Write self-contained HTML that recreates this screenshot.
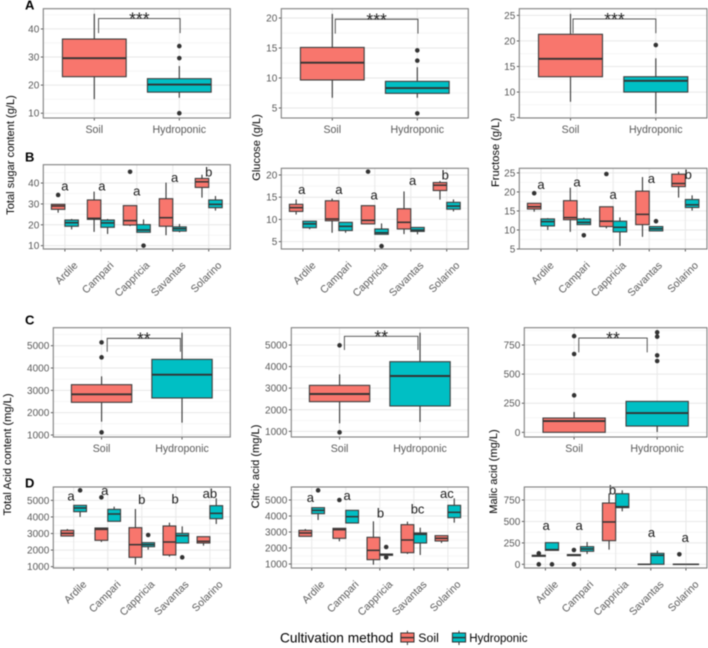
<!DOCTYPE html>
<html lang="en">
<head>
<meta charset="utf-8">
<title>Sugar and acid content by cultivation method</title>
<style>
html,body{margin:0;padding:0;background:#fff;width:708px;height:648px;overflow:hidden}
svg{display:block;filter:blur(0.45px)}
text{font-family:"Liberation Sans",Arial,sans-serif}
</style>
</head>
<body>
<svg id="chart" xmlns="http://www.w3.org/2000/svg" width="708" height="648" viewBox="0 0 708 648">
  <rect x="0" y="0" width="708" height="648" fill="#fff"/>
  <g id="panels"></g>
  <text x="25" y="9.5" font-size="13" font-weight="bold" fill="#000">A</text>
  <text x="25" y="161.5" font-size="13" font-weight="bold" fill="#000">B</text>
  <text x="25" y="324.5" font-size="13" font-weight="bold" fill="#000">C</text>
  <text x="25" y="487.5" font-size="13" font-weight="bold" fill="#000">D</text>
  <g>
    <text x="280" y="642.5" font-size="13.7" fill="#000">Cultivation method</text>
    <g>
      <line x1="407.4" x2="407.4" y1="630.7" y2="645" stroke="#333" stroke-width="1"/>
      <rect x="400.8" y="633" width="13.2" height="9" fill="#F8766D" stroke="#333" stroke-width="1"/>
      <line x1="400.8" x2="414" y1="637.6" y2="637.6" stroke="#333" stroke-width="1.4"/>
      <text x="418.3" y="642" font-size="12.3" fill="#000">Soil</text>
    </g>
    <g>
      <line x1="459" x2="459" y1="630.7" y2="645" stroke="#333" stroke-width="1"/>
      <rect x="452.4" y="633" width="13.2" height="9" fill="#00BFC4" stroke="#333" stroke-width="1"/>
      <line x1="452.4" x2="465.6" y1="637.6" y2="637.6" stroke="#333" stroke-width="1.4"/>
      <text x="469.3" y="642" font-size="11.5" fill="#000">Hydroponic</text>
    </g>
  </g>
</svg>
<script>
// Categories
const methodCategories = ['Soil', 'Hydroponic'];
const cultivarCategories = ['Ardile', 'Campari', 'Cappricia', 'Savantas', 'Solarino'];

// Each box row: [whisker low, Q1, median, Q3, whisker high]
// ---- Total sugar ----
const sugarTicks = [10, 20, 30, 40];
const sugarMethodBoxes = [[15, 23, 29.6, 36.4, 45.4], [15.5, 17.5, 20.2, 22.3, 26.8]];
const sugarMethodOutliers = [[], [33.9, 29.6, 10]];
const sugarCultivarSoilBoxes = [[25.8, 27.4, 29, 29.8, 29.8], [16.6, 22.6, 23.1, 31.9, 35.9], [19.4, 19.9, 22, 29.2, 29.2], [15, 19.3, 23.4, 32.5, 40.2], [33, 37.9, 40.6, 42.2, 44]];
const sugarCultivarHydroBoxes = [[17.8, 19.3, 21, 22.3, 22.8], [15.6, 18.8, 20.9, 22.3, 22.8], [16.4, 16.4, 17.5, 20.1, 22.6], [16.4, 17, 18.1, 19, 20.4], [26.8, 28.2, 29.8, 31.9, 33.8]];
const sugarCultivarSoilOutliers = [[34.3], [], [45.4], [], []];
const sugarCultivarHydroOutliers = [[], [], [10], [], []];
const sugarLetters = ['a', 'a', 'a', 'a', 'b'];
const sugarLetterValues = [38.2, 38.2, 35.9, 42.4, 45.1];
const sugarLetterNudges = [0, 0.03, 0, 0.05, 0];

// ---- Glucose ----
const glucoseTicks = [5, 10, 15, 20];
const glucoseMethodBoxes = [[6.7, 9.67, 12.56, 15.1, 20.7], [6.7, 7.44, 8.33, 9.44, 11.8]];
const glucoseMethodOutliers = [[], [14.6, 12.9, 4.1]];
const glucoseCultivarSoilBoxes = [[11.1, 11.8, 12.65, 13.4, 14.5], [7, 9.7, 10.1, 14.2, 14.7], [9, 9, 9.8, 13.1, 13.1], [6.7, 7.85, 9.35, 12.4, 16.3], [14.45, 16.5, 17.7, 18.3, 18.65]];
const glucoseCultivarHydroBoxes = [[7.8, 8.15, 9, 9.6, 9.6], [7, 7.5, 8.45, 9.35, 9.35], [6.65, 6.65, 7, 7.85, 9.1], [6.65, 7.3, 7.6, 8.2, 8.2], [11.8, 12.3, 13, 13.85, 14.5]];
const glucoseCultivarSoilOutliers = [[], [], [20.75], [], []];
const glucoseCultivarHydroOutliers = [[], [], [4], [], []];
const glucoseLetters = ['a', 'a', 'a', 'a', 'b'];
const glucoseLetterValues = [16.6, 16.6, 15.4, 18.6, 19.85];
const glucoseLetterNudges = [-0.03, 0, -0.02, 0.05, -0.04];

// ---- Fructose ----
const fructoseTicks = [5, 10, 15, 20, 25];
const fructoseMethodBoxes = [[8.1, 13, 16.5, 21.3, 25.3], [5.8, 10, 12.2, 13, 16.6]];
const fructoseMethodOutliers = [[], [19.2]];
const fructoseCultivarSoilBoxes = [[14.8, 15.5, 16.1, 17, 17], [9.5, 12.7, 13.25, 17.7, 21.1], [10.4, 10.9, 12.3, 16.1, 16.1], [8.2, 11.4, 14.1, 20.2, 23.9], [18.5, 21.4, 22.2, 24.65, 25.3]];
const fructoseCultivarHydroBoxes = [[10, 11.05, 12.2, 12.9, 13.1], [11.4, 11.4, 12, 12.9, 13.25], [5.8, 9.5, 10.7, 12.3, 13.3], [9.75, 9.75, 10.3, 10.9, 10.9], [15.1, 15.9, 16.6, 18, 19.1]];
const fructoseCultivarSoilOutliers = [[19.65], [], [24.7], [], []];
const fructoseCultivarHydroOutliers = [[], [8.6], [], [12.3], []];
const fructoseLetters = ['a', 'a', 'a', 'a', 'b'];
const fructoseLetterValues = [21.85, 22.4, 19.2, 23.3, 24.4];
const fructoseLetterNudges = [0, 0, 0, 0.06, 0.08];

// ---- Total acid ----
const acidTicks = [1000, 2000, 3000, 4000, 5000];
const acidMethodBoxes = [[1597, 2463, 2821, 3254, 3627], [1552, 2657, 3701, 4388, 5582]];
const acidMethodOutliers = [[5149, 4478, 1119], []];
const acidCultivarSoilBoxes = [[2829, 2849, 3010, 3191, 3271], [2487, 2588, 3251, 3332, 3332], [1121, 1563, 2327, 3352, 4477], [1603, 1704, 2487, 3452, 3653], [2266, 2427, 2528, 2809, 2809]];
const acidCultivarHydroBoxes = [[3995, 4317, 4538, 4698, 4698], [3734, 3734, 4176, 4457, 4618], [2025, 2206, 2327, 2447, 2447], [2427, 2427, 2869, 3010, 3432], [3573, 3894, 4216, 4678, 5121]];
const acidCultivarSoilOutliers = [[], [5181], [], [], []];
const acidCultivarHydroOutliers = [[5603], [], [2910], [1563], []];
const acidLetters = ['a', 'a', 'b', 'b', 'ab'];
const acidLetterValues = [5221, 5563, 5020, 5040, 5362];
const acidLetterNudges = [-0.08, -0.09, 0, -0.02, 0];

// ---- Citric acid ----
const citricTicks = [1000, 2000, 3000, 4000, 5000];
const citricMethodBoxes = [[1371, 2375, 2730, 3131, 3641], [1432, 2174, 3564, 4228, 5571]];
const citricMethodOutliers = [[4985, 954], []];
const citricCultivarSoilBoxes = [[2729, 2729, 2938, 3104, 3188], [2417, 2604, 3146, 3229, 3229], [958, 1271, 1854, 2667, 3667], [1625, 1708, 2500, 3458, 3646], [2313, 2438, 2604, 2771, 2771]];
const citricCultivarHydroBoxes = [[3750, 4146, 4354, 4521, 4521], [3563, 3563, 3958, 4354, 4354], [1542, 1542, 1604, 1625, 1625], [1563, 2313, 2854, 2938, 3271], [3583, 3896, 4229, 4667, 5104]];
const citricCultivarSoilOutliers = [[], [5000], [], [], []];
const citricCultivarHydroOutliers = [[5604], [], [2063, 1417], [], []];
const citricLetters = ['a', 'a', 'b', 'bc', 'ac'];
const citricLetterValues = [5125, 5250, 4146, 4396, 5354];
const citricLetterNudges = [-0.04, 0.04, 0.02, 0.11, -0.03];

// ---- Malic acid ----
const malicTicks = [0, 250, 500, 750];
const malicMethodBoxes = [[0, 0, 97, 123, 175], [3, 54, 166, 266, 266]];
const malicMethodOutliers = [[827, 673, 318], [859, 822, 661, 613]];
const malicCultivarSoilBoxes = [[93, 93, 101, 105, 105], [101, 101, 109, 113, 113], [171, 276, 494, 715, 828], [0, 0, 0, 0, 0], [0, 0, 0, 0, 0]];
const malicCultivarHydroBoxes = [[163, 163, 171, 253, 253], [120, 152, 179, 206, 260], [618, 661, 672, 824, 863], [0, 0, 105, 128, 159], [0, 0, 0, 0, 0]];
const malicCultivarSoilOutliers = [[128, 0], [167, 0], [], [], [117]];
const malicCultivarHydroOutliers = [[0], [], [], [], []];
const malicLetters = ['a', 'a', 'b', 'a', 'a'];
const malicLetterValues = [447, 447, 859, 365, 307];
const malicLetterNudges = [0.02, -0.04, -0.09, 0.02, -0.02];

const SVGNS = 'http://www.w3.org/2000/svg';
const root = document.getElementById('panels');
const soilFill = '#F8766D';
const hydroFill = '#00BFC4';
const inkColor = '#333333';

function make(parent, tag, attrs) {
  const el = document.createElementNS(SVGNS, tag);
  for (const key in attrs) el.setAttribute(key, attrs[key]);
  parent.appendChild(el);
  return el;
}

// Axis functions
function xAxis(frame, count) {
  const step = (frame.r - frame.l) / (count + 0.2);
  return { step: step, at: function (i) { return frame.l + (i + 0.6) * step; } };
}
function yAxis(frame, domain) {
  return function (v) {
    return frame.b - (v - domain[0]) / (domain[1] - domain[0]) * (frame.b - frame.t);
  };
}

function drawFrame(group, p, x, y, categories) {
  const f = p.frame;
  const bg = make(group, 'rect', { x: f.l, y: f.t, width: f.r - f.l, height: f.b - f.t, fill: '#fff' });
  
  

  const step = p.ticks[1] - p.ticks[0];
  const minors = [p.ticks[0] - step / 2].concat(p.ticks.map(function (t) { return t + step / 2; }));
  minors.forEach(function (m) {
    if (m < p.domain[0] || m > p.domain[1]) return;
    const g = make(group, 'line', { x1: f.l, x2: f.r, y1: y(m), y2: y(m), stroke: '#f0f0f0', 'stroke-width': 0.6 });
    
    
  });
  p.ticks.forEach(function (t) {
    const g = make(group, 'line', { x1: f.l, x2: f.r, y1: y(t), y2: y(t), stroke: '#e8e8e8', 'stroke-width': 1 });
    
    
    const tick = make(group, 'line', { x1: f.l - 2.5, x2: f.l, y1: y(t), y2: y(t), stroke: inkColor, 'stroke-width': 0.8 });
    
    
    const label = make(group, 'text', { x: f.l - 4, y: y(t) + 3.5, 'font-size': 10, 'text-anchor': 'end', fill: '#5a5a5a' });
    
    
    label.textContent = String(t);
  });
  categories.forEach(function (c, i) {
    const g = make(group, 'line', { x1: x.at(i), x2: x.at(i), y1: f.t, y2: f.b, stroke: '#e8e8e8', 'stroke-width': 1 });
    
    
    const tick = make(group, 'line', { x1: x.at(i), x2: x.at(i), y1: f.b, y2: f.b + 2.5, stroke: inkColor, 'stroke-width': 0.8 });
    
    
    let label;
    if (categories.length > 2) {
      const lx = x.at(i) + 13.5;
      const ly = f.b + 17;
      label = make(group, 'text', { x: lx, y: ly, 'font-size': 10.5, 'text-anchor': 'end', fill: '#5a5a5a', transform: 'rotate(-45 ' + lx + ' ' + ly + ')' });
    } else {
      label = make(group, 'text', { x: x.at(i), y: f.b + 14.8, 'font-size': 10.6, 'text-anchor': 'middle', fill: '#5a5a5a' });
    }
    
    
    label.textContent = c;
  });
}

function drawBorder(group, p) {
  const f = p.frame;
  const border = make(group, 'rect', { x: f.l, y: f.t, width: f.r - f.l, height: f.b - f.t, fill: 'none', stroke: '#808080', 'stroke-width': 1.1 });
  
  
}

function drawBox(group, prefix, cx, halfWidth, row, outliers, fill, y, medianWidth) {
  outliers.forEach(function (v) {
    const dot = make(group, 'circle', { cx: cx, cy: y(v), r: 2.3, fill: inkColor });
    
    
  });
  const whisker = make(group, 'line', { x1: cx, x2: cx, y1: y(row[0]), y2: y(row[4]), stroke: '#3d3d3d', 'stroke-width': 1.15 });
  
  
  const box = make(group, 'rect', { x: cx - halfWidth, y: y(row[3]), width: 2 * halfWidth, height: Math.max(0, y(row[1]) - y(row[3])), fill: fill, stroke: '#3d3d3d', 'stroke-width': 1.1 });
  
  
  const median = make(group, 'line', { x1: cx - halfWidth, x2: cx + halfWidth, y1: y(row[2]), y2: y(row[2]), stroke: inkColor, 'stroke-width': medianWidth });
  
  
}

function drawMethodPanel(p) {
  const group = make(root, 'g', {});
  
  
  const x = xAxis(p.frame, methodCategories.length);
  const y = yAxis(p.frame, p.domain);
  drawFrame(group, p, x, y, methodCategories);
  const fills = [soilFill, hydroFill];
  p.boxes.forEach(function (row, i) {
    drawBox(group, p.id + '-' + methodCategories[i].toLowerCase(), x.at(i), 0.375 * x.step, row, p.outliers[i], fills[i], y, 1.9);
  });
  const bx1 = x.at(0) + p.bracket.from * x.step;
  const bx2 = x.at(0) + p.bracket.to * x.step;
  const bTop = y(p.bracket.top);
  const bTip = y(p.bracket.tip);
  const bracket = make(group, 'path', { d: 'M' + bx1 + ' ' + bTip + 'V' + bTop + 'H' + bx2 + 'V' + bTip, fill: 'none', stroke: '#444', 'stroke-width': 0.9 });
  
  
  const stars = make(group, 'text', { x: (bx1 + bx2) / 2, y: bTop + 6, 'font-size': 17.5, 'text-anchor': 'middle', fill: '#222' });
  
  
  stars.textContent = p.stars;
  drawBorder(group, p);
}

function drawCultivarPanel(p) {
  const group = make(root, 'g', {});
  
  
  const x = xAxis(p.frame, cultivarCategories.length);
  const y = yAxis(p.frame, p.domain);
  drawFrame(group, p, x, y, cultivarCategories);
  cultivarCategories.forEach(function (c, i) {
    const name = p.id + '-' + c.toLowerCase();
    drawBox(group, name + '-soil', x.at(i) - 0.1875 * x.step, 0.1875 * x.step, p.soil[i], p.soilOut[i], soilFill, y, 1.5);
    drawBox(group, name + '-hydroponic', x.at(i) + 0.1875 * x.step, 0.1875 * x.step, p.hydro[i], p.hydroOut[i], hydroFill, y, 1.5);
    const letter = make(group, 'text', { x: x.at(i + p.nudges[i]), y: y(p.letterValues[i]) + 3.9, 'font-size': 13, 'text-anchor': 'middle', fill: '#1a1a1a' });
    
    
    letter.textContent = p.letters[i];
  });
  drawBorder(group, p);
}

function drawYTitle(id, label, xPos, yCenter) {
  const t = make(root, 'text', { x: xPos, y: yCenter, 'font-size': 11.1, 'text-anchor': 'middle', fill: '#000', transform: 'rotate(-90 ' + xPos + ' ' + yCenter + ')' });
  
  
  t.textContent = label;
}

drawMethodPanel({ id: 'sugar-method', frame: { l: 43.3, r: 230.3, t: 8.7, b: 118 }, domain: [8.3, 47.2], ticks: sugarTicks, boxes: sugarMethodBoxes, outliers: sugarMethodOutliers, stars: '***', bracket: { from: 0.05, to: 1.01, top: 43.7, tip: 38.5 } });
drawCultivarPanel({ id: 'sugar-cultivar', frame: { l: 43.3, r: 230.3, t: 164.7, b: 249 }, domain: [8.4, 48.8], ticks: sugarTicks, soil: sugarCultivarSoilBoxes, hydro: sugarCultivarHydroBoxes, soilOut: sugarCultivarSoilOutliers, hydroOut: sugarCultivarHydroOutliers, letters: sugarLetters, letterValues: sugarLetterValues, nudges: sugarLetterNudges });
drawMethodPanel({ id: 'glucose-method', frame: { l: 281.3, r: 468.3, t: 8.7, b: 118 }, domain: [3.33, 21.56], ticks: glucoseTicks, boxes: glucoseMethodBoxes, outliers: glucoseMethodOutliers, stars: '***', bracket: { from: 0.035, to: 1.008, top: 19.8, tip: 17.4 } });
drawCultivarPanel({ id: 'glucose-cultivar', frame: { l: 281.3, r: 468.3, t: 168.3, b: 249 }, domain: [3.35, 21.5], ticks: glucoseTicks, soil: glucoseCultivarSoilBoxes, hydro: glucoseCultivarHydroBoxes, soilOut: glucoseCultivarSoilOutliers, hydroOut: glucoseCultivarHydroOutliers, letters: glucoseLetters, letterValues: glucoseLetterValues, nudges: glucoseLetterNudges });
drawMethodPanel({ id: 'fructose-method', frame: { l: 519.3, r: 707, t: 8.7, b: 118 }, domain: [4.93, 26.3], ticks: fructoseTicks, boxes: fructoseMethodBoxes, outliers: fructoseMethodOutliers, stars: '***', bracket: { from: 0.03, to: 1.0, top: 24.3, tip: 21.5 } });
drawCultivarPanel({ id: 'fructose-cultivar', frame: { l: 519.3, r: 707, t: 168.3, b: 249 }, domain: [5, 26.2], ticks: fructoseTicks, soil: fructoseCultivarSoilBoxes, hydro: fructoseCultivarHydroBoxes, soilOut: fructoseCultivarSoilOutliers, hydroOut: fructoseCultivarHydroOutliers, letters: fructoseLetters, letterValues: fructoseLetterValues, nudges: fructoseLetterNudges });
drawMethodPanel({ id: 'acid-method', frame: { l: 53.3, r: 230.3, t: 327.7, b: 437 }, domain: [910, 5806], ticks: acidTicks, boxes: acidMethodBoxes, outliers: acidMethodOutliers, stars: '**', bracket: { from: 0.07, to: 0.98, top: 5328, tip: 4731 } });
drawCultivarPanel({ id: 'acid-cultivar', frame: { l: 53.3, r: 230.3, t: 487, b: 568 }, domain: [920, 5804], ticks: acidTicks, soil: acidCultivarSoilBoxes, hydro: acidCultivarHydroBoxes, soilOut: acidCultivarSoilOutliers, hydroOut: acidCultivarHydroOutliers, letters: acidLetters, letterValues: acidLetterValues, nudges: acidLetterNudges });
drawMethodPanel({ id: 'citric-method', frame: { l: 291.3, r: 468.3, t: 327.7, b: 437 }, domain: [737, 5803], ticks: citricTicks, boxes: citricMethodBoxes, outliers: citricMethodOutliers, stars: '**', bracket: { from: 0.06, to: 0.975, top: 5402, tip: 4768 } });
drawCultivarPanel({ id: 'citric-cultivar', frame: { l: 291.3, r: 468.3, t: 487, b: 568 }, domain: [750, 5812], ticks: citricTicks, soil: citricCultivarSoilBoxes, hydro: citricCultivarHydroBoxes, soilOut: citricCultivarSoilOutliers, hydroOut: citricCultivarHydroOutliers, letters: citricLetters, letterValues: citricLetterValues, nudges: citricLetterNudges });
drawMethodPanel({ id: 'malic-method', frame: { l: 524.3, r: 707, t: 327.7, b: 437 }, domain: [-40, 899], ticks: malicTicks, boxes: malicMethodBoxes, outliers: malicMethodOutliers, stars: '**', bracket: { from: 0.056, to: 0.88, top: 810, tip: 687 } });
drawCultivarPanel({ id: 'malic-cultivar', frame: { l: 524.3, r: 707, t: 487, b: 568 }, domain: [-43, 902], ticks: malicTicks, soil: malicCultivarSoilBoxes, hydro: malicCultivarHydroBoxes, soilOut: malicCultivarSoilOutliers, hydroOut: malicCultivarHydroOutliers, letters: malicLetters, letterValues: malicLetterValues, nudges: malicLetterNudges });

drawYTitle('y-axis-title-total-sugar', 'Total sugar content (g/L)', 14, 155);
drawYTitle('y-axis-title-glucose', 'Glucose (g/L)', 260, 147.5);
drawYTitle('y-axis-title-fructose', 'Fructose (g/L)', 499, 152.5);
drawYTitle('y-axis-title-total-acid', 'Total Acid content (mg/L)', 11, 454.5);
drawYTitle('y-axis-title-citric-acid', 'Citric acid (mg/L)', 259, 466.5);
drawYTitle('y-axis-title-malic-acid', 'Malic acid (mg/L)', 497, 471.5);
</script>
</body>
</html>
